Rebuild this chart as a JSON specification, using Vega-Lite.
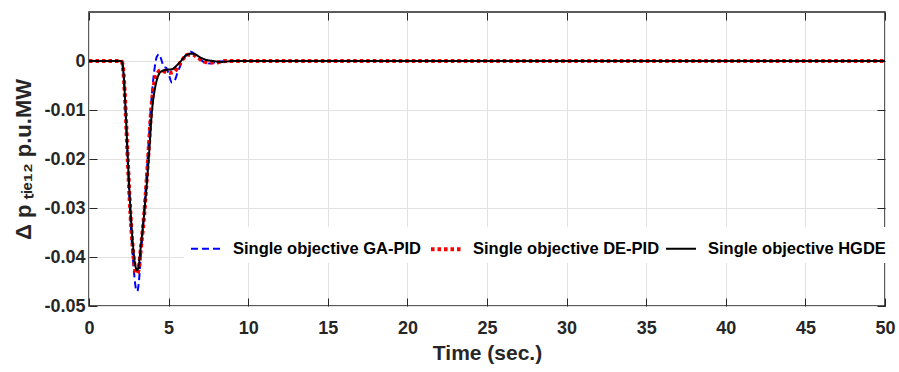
{
  "$schema": "https://vega.github.io/schema/vega-lite/v6.json",
  "width": 796,
  "height": 294,
  "autosize": {"type": "none"},
  "padding": {"left": 89, "top": 12, "right": 14, "bottom": 66},
  "background": "white",
  "config": {
    "view": {"stroke": "#262626", "strokeWidth": 1.5},
    "font": "Liberation Sans",
    "legend": {"labelFont": "Liberation Sans", "labelFontWeight": "bold", "labelFontSize": 16.5, "labelColor": "#000000"}
  },
  "data": {"values": [
    {"t": 0, "v": 0, "s": "Single objective GA-PID"},
    {"t": 2.0, "v": 0, "s": "Single objective GA-PID"},
    {"t": 2.08, "v": -0.0003, "s": "Single objective GA-PID"},
    {"t": 2.18, "v": -0.003, "s": "Single objective GA-PID"},
    {"t": 2.3, "v": -0.0105, "s": "Single objective GA-PID"},
    {"t": 2.44, "v": -0.021, "s": "Single objective GA-PID"},
    {"t": 2.6, "v": -0.032, "s": "Single objective GA-PID"},
    {"t": 2.8, "v": -0.042, "s": "Single objective GA-PID"},
    {"t": 2.95, "v": -0.0465, "s": "Single objective GA-PID"},
    {"t": 3.03, "v": -0.047, "s": "Single objective GA-PID"},
    {"t": 3.12, "v": -0.0455, "s": "Single objective GA-PID"},
    {"t": 3.25, "v": -0.04, "s": "Single objective GA-PID"},
    {"t": 3.5, "v": -0.029, "s": "Single objective GA-PID"},
    {"t": 3.72, "v": -0.018, "s": "Single objective GA-PID"},
    {"t": 3.92, "v": -0.008, "s": "Single objective GA-PID"},
    {"t": 4.1, "v": -0.002, "s": "Single objective GA-PID"},
    {"t": 4.25, "v": 0.0008, "s": "Single objective GA-PID"},
    {"t": 4.4, "v": 0.0014, "s": "Single objective GA-PID"},
    {"t": 4.55, "v": 0.0002, "s": "Single objective GA-PID"},
    {"t": 4.7, "v": -0.0012, "s": "Single objective GA-PID"},
    {"t": 4.85, "v": -0.0014, "s": "Single objective GA-PID"},
    {"t": 5.0, "v": -0.0026, "s": "Single objective GA-PID"},
    {"t": 5.2, "v": -0.0044, "s": "Single objective GA-PID"},
    {"t": 5.35, "v": -0.0042, "s": "Single objective GA-PID"},
    {"t": 5.55, "v": -0.0025, "s": "Single objective GA-PID"},
    {"t": 5.8, "v": -0.0005, "s": "Single objective GA-PID"},
    {"t": 6.1, "v": 0.0013, "s": "Single objective GA-PID"},
    {"t": 6.4, "v": 0.0019, "s": "Single objective GA-PID"},
    {"t": 6.7, "v": 0.0013, "s": "Single objective GA-PID"},
    {"t": 7.0, "v": 0.0003, "s": "Single objective GA-PID"},
    {"t": 7.3, "v": -0.0004, "s": "Single objective GA-PID"},
    {"t": 7.6, "v": -0.0005, "s": "Single objective GA-PID"},
    {"t": 8.0, "v": -0.0002, "s": "Single objective GA-PID"},
    {"t": 8.6, "v": 0, "s": "Single objective GA-PID"},
    {"t": 50, "v": 0, "s": "Single objective GA-PID"},

    {"t": 0, "v": 0, "s": "Single objective DE-PID"},
    {"t": 2.0, "v": 0, "s": "Single objective DE-PID"},
    {"t": 2.08, "v": -0.0003, "s": "Single objective DE-PID"},
    {"t": 2.18, "v": -0.003, "s": "Single objective DE-PID"},
    {"t": 2.3, "v": -0.0102, "s": "Single objective DE-PID"},
    {"t": 2.44, "v": -0.0205, "s": "Single objective DE-PID"},
    {"t": 2.6, "v": -0.031, "s": "Single objective DE-PID"},
    {"t": 2.8, "v": -0.04, "s": "Single objective DE-PID"},
    {"t": 2.95, "v": -0.0432, "s": "Single objective DE-PID"},
    {"t": 3.03, "v": -0.0434, "s": "Single objective DE-PID"},
    {"t": 3.12, "v": -0.0425, "s": "Single objective DE-PID"},
    {"t": 3.25, "v": -0.0385, "s": "Single objective DE-PID"},
    {"t": 3.5, "v": -0.03, "s": "Single objective DE-PID"},
    {"t": 3.72, "v": -0.0195, "s": "Single objective DE-PID"},
    {"t": 3.92, "v": -0.0095, "s": "Single objective DE-PID"},
    {"t": 4.1, "v": -0.0045, "s": "Single objective DE-PID"},
    {"t": 4.3, "v": -0.0025, "s": "Single objective DE-PID"},
    {"t": 4.5, "v": -0.0019, "s": "Single objective DE-PID"},
    {"t": 4.8, "v": -0.0022, "s": "Single objective DE-PID"},
    {"t": 5.1, "v": -0.0024, "s": "Single objective DE-PID"},
    {"t": 5.35, "v": -0.0022, "s": "Single objective DE-PID"},
    {"t": 5.6, "v": -0.001, "s": "Single objective DE-PID"},
    {"t": 5.9, "v": 0.0004, "s": "Single objective DE-PID"},
    {"t": 6.2, "v": 0.0013, "s": "Single objective DE-PID"},
    {"t": 6.5, "v": 0.0013, "s": "Single objective DE-PID"},
    {"t": 6.8, "v": 0.0008, "s": "Single objective DE-PID"},
    {"t": 7.1, "v": 0.0001, "s": "Single objective DE-PID"},
    {"t": 7.5, "v": -0.0003, "s": "Single objective DE-PID"},
    {"t": 8.0, "v": -0.0003, "s": "Single objective DE-PID"},
    {"t": 8.6, "v": 0, "s": "Single objective DE-PID"},
    {"t": 50, "v": 0, "s": "Single objective DE-PID"},

    {"t": 0, "v": 0, "s": "Single objective HGDE"},
    {"t": 2.0, "v": 0, "s": "Single objective HGDE"},
    {"t": 2.08, "v": -0.0003, "s": "Single objective HGDE"},
    {"t": 2.18, "v": -0.003, "s": "Single objective HGDE"},
    {"t": 2.3, "v": -0.01, "s": "Single objective HGDE"},
    {"t": 2.44, "v": -0.02, "s": "Single objective HGDE"},
    {"t": 2.6, "v": -0.03, "s": "Single objective HGDE"},
    {"t": 2.8, "v": -0.039, "s": "Single objective HGDE"},
    {"t": 2.95, "v": -0.0423, "s": "Single objective HGDE"},
    {"t": 3.03, "v": -0.0427, "s": "Single objective HGDE"},
    {"t": 3.12, "v": -0.0418, "s": "Single objective HGDE"},
    {"t": 3.25, "v": -0.038, "s": "Single objective HGDE"},
    {"t": 3.5, "v": -0.03, "s": "Single objective HGDE"},
    {"t": 3.75, "v": -0.02, "s": "Single objective HGDE"},
    {"t": 3.96, "v": -0.01, "s": "Single objective HGDE"},
    {"t": 4.15, "v": -0.0055, "s": "Single objective HGDE"},
    {"t": 4.35, "v": -0.003, "s": "Single objective HGDE"},
    {"t": 4.55, "v": -0.0021, "s": "Single objective HGDE"},
    {"t": 4.85, "v": -0.0018, "s": "Single objective HGDE"},
    {"t": 5.2, "v": -0.0017, "s": "Single objective HGDE"},
    {"t": 5.45, "v": -0.0011, "s": "Single objective HGDE"},
    {"t": 5.75, "v": -0.0001, "s": "Single objective HGDE"},
    {"t": 6.05, "v": 0.001, "s": "Single objective HGDE"},
    {"t": 6.4, "v": 0.0015, "s": "Single objective HGDE"},
    {"t": 6.7, "v": 0.0013, "s": "Single objective HGDE"},
    {"t": 7.0, "v": 0.0007, "s": "Single objective HGDE"},
    {"t": 7.4, "v": 0.0002, "s": "Single objective HGDE"},
    {"t": 7.8, "v": 0, "s": "Single objective HGDE"},
    {"t": 8.3, "v": -0.0002, "s": "Single objective HGDE"},
    {"t": 9.0, "v": 0, "s": "Single objective HGDE"},
    {"t": 50, "v": 0, "s": "Single objective HGDE"}
  ]},
  "layer": [
    {
      "mark": {"type": "line", "interpolate": "monotone", "clip": true},
      "encoding": {
        "x": {
          "field": "t", "type": "quantitative",
          "scale": {"domain": [0, 50], "nice": false},
          "axis": {
            "orient": "bottom",
            "values": [0, 5, 10, 15, 20, 25, 30, 35, 40, 45, 50],
            "grid": true, "gridColor": "#e2e2e2", "gridWidth": 1,
            "domain": false,
            "tickSize": -8, "tickColor": "#262626", "tickWidth": 1,
            "labelFont": "Liberation Sans", "labelFontWeight": "bold", "labelFontSize": 18,
            "labelColor": "#262626", "labelPadding": 21, "labelFlush": false,
            "title": "Time (sec.)", "titleFont": "Liberation Sans", "titleFontWeight": "bold",
            "titleFontSize": 21, "titleColor": "#262626", "titlePadding": 5
          }
        },
        "y": {
          "field": "v", "type": "quantitative",
          "scale": {"domain": [-0.05, 0.01], "nice": false, "zero": false},
          "axis": {
            "orient": "left",
            "values": [-0.05, -0.04, -0.03, -0.02, -0.01, 0],
            "labelExpr": "datum.value == 0 ? '0' : '-' + format(abs(datum.value), '.2f')",
            "grid": true, "gridColor": "#e2e2e2", "gridWidth": 1,
            "domain": false,
            "tickSize": -8, "tickColor": "#262626", "tickWidth": 1,
            "labelFont": "Liberation Sans", "labelFontWeight": "bold", "labelFontSize": 18,
            "labelColor": "#262626", "labelPadding": 12, "labelFlush": false,
            "title": "Δ   p ₜᵢₑ₁₂ p.u.MW", "titleFont": "Liberation Sans", "titleFontWeight": "bold",
            "titleFontSize": 22, "titleColor": "#262626", "titlePadding": 8
          }
        },
        "color": {
          "field": "s", "type": "nominal",
          "scale": {"domain": ["Single objective GA-PID", "Single objective DE-PID", "Single objective HGDE"], "range": ["#0000ff", "#ff0000", "#000000"]},
          "legend": {
            "title": null, "orient": "none", "legendX": 95, "legendY": 215,
            "direction": "horizontal", "columns": 3, "columnPadding": 2,
            "symbolType": "stroke", "symbolSize": 900, "labelOffset": 10, "labelLimit": 400,
            "fillColor": "white", "padding": 5
          }
        },
        "strokeDash": {
          "field": "s", "type": "nominal",
          "scale": {"domain": ["Single objective GA-PID", "Single objective DE-PID", "Single objective HGDE"], "range": [[7, 4], [3.5, 3], [1, 0]]},
          "legend": {
            "title": null, "orient": "none", "legendX": 95, "legendY": 215,
            "direction": "horizontal", "columns": 3, "columnPadding": 2,
            "symbolType": "stroke", "symbolSize": 900, "labelOffset": 10, "labelLimit": 400,
            "fillColor": "white", "padding": 5
          }
        },
        "strokeWidth": {
          "field": "s", "type": "nominal",
          "scale": {"type": "ordinal", "domain": ["Single objective GA-PID", "Single objective DE-PID", "Single objective HGDE"], "range": [2, 4, 2]},
          "legend": {
            "title": null, "orient": "none", "legendX": 95, "legendY": 215,
            "direction": "horizontal", "columns": 3, "columnPadding": 2,
            "symbolType": "stroke", "symbolSize": 900, "labelOffset": 10, "labelLimit": 400,
            "fillColor": "white", "padding": 5
          }
        }
      }
    },
    {
      "mark": {"type": "line", "opacity": 0},
      "encoding": {
        "x": {
          "field": "t", "type": "quantitative",
          "axis": {"orient": "top", "values": [0, 5, 10, 15, 20, 25, 30, 35, 40, 45, 50], "labels": false, "domain": false, "grid": false, "tickSize": -8, "tickColor": "#262626", "title": null}
        },
        "y": {
          "field": "v", "type": "quantitative",
          "axis": {"orient": "right", "values": [-0.05, -0.04, -0.03, -0.02, -0.01, 0], "labels": false, "domain": false, "grid": false, "tickSize": -8, "tickColor": "#262626", "title": null}
        }
      }
    }
  ],
  "resolve": {"axis": {"x": "independent", "y": "independent"}}
}
